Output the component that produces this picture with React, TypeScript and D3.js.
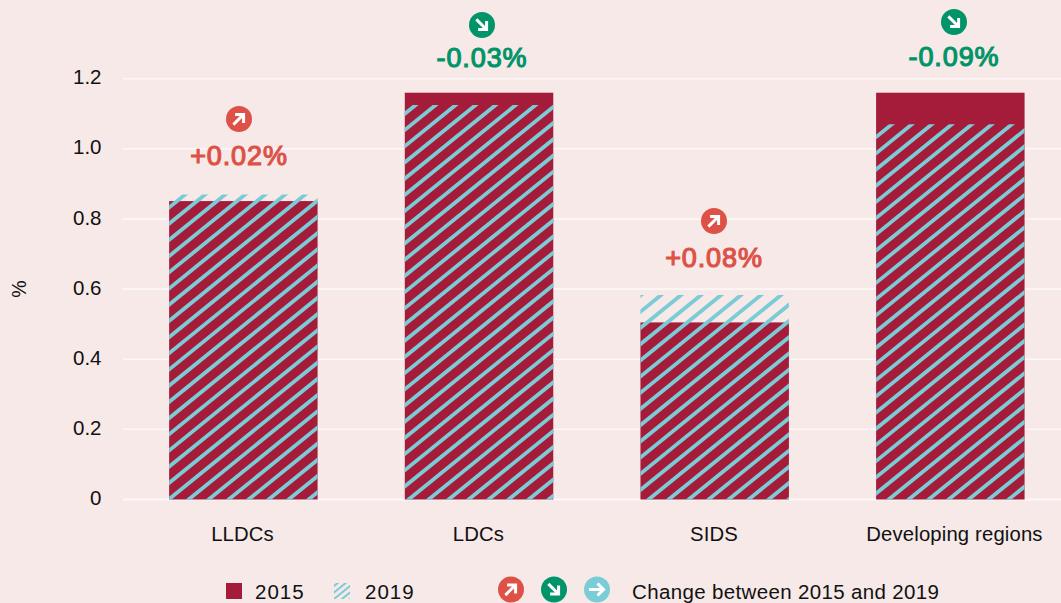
import React from "react";
import * as d3 from "d3";

const categories = ["LLDCs", "LDCs", "SIDS", "Developing regions"];
const values2015 = [0.851, 1.16, 0.505, 1.16];
const values2019 = [0.87, 1.125, 0.583, 1.07];
const changeLabels = ["+0.02%", "-0.03%", "+0.08%", "-0.09%"];
const changeKinds = ["up", "down", "up", "down"];
const yTicks = [0, 0.2, 0.4, 0.6, 0.8, 1.0, 1.2];
const legendKinds = ["up", "down", "flat"];

const W = 1061, H = 603;
const BG = "#f6e9e8", CRIMSON = "#a51c3a", TEAL = "#7accd6", RED = "#dd5146", GREEN = "#009468", INK = "#111";
const FONT = "'Liberation Sans', Arial, sans-serif";
const kindColor: Record<string, string> = { up: RED, down: GREEN, flat: TEAL };

const y = d3.scaleLinear().domain([0, 1.2]).range([499.5, 78.7]);
const x = d3.scaleBand().domain(categories).range([132.6, 1061.1]).paddingInner(0.37).paddingOuter(0.155);
const iconCx = [239, 482, 714, 954];
const iconCy = [119, 25, 221, 22];
const labelBase = [165, 67, 267, 66];
const catLabelCx = [242.5, 478.5, 714, 954.5];

function Hatch({ id, x0, y0, w, h, period, sw, anchorX, anchorY }: any) {
  const slope = 0.81;
  const first = Math.floor((x0 - anchorX - (anchorY - y0) / slope) / period) - 1;
  const last = Math.ceil((x0 + w - anchorX + (y0 + h - anchorY) / slope) / period) + 1;
  const ks = d3.range(first, last + 1);
  return (
    <g clipPath={`url(#${id})`}>
      <clipPath id={id}><rect x={x0} y={y0} width={w} height={h} /></clipPath>
      {ks.map((k) => {
        const ax = anchorX + k * period;
        return (
          <line key={k} x1={ax - 800} y1={anchorY + slope * 800} x2={ax + 800} y2={anchorY - slope * 800}
            stroke={TEAL} strokeWidth={sw} />
        );
      })}
    </g>
  );
}

function Arrow({ kind, cx, cy }: { kind: string; cx: number; cy: number }) {
  const rot = kind === "up" ? -45 : kind === "down" ? 45 : 0;
  return (
    <g transform={`translate(${cx},${cy})`}>
      <circle r={13} fill={kindColor[kind]} />
      <g transform={`rotate(${rot})`} fill="none" stroke="#fff" strokeWidth={3}>
        <path d="M-8,0H6" />
        <path d="M0.5,-6L6.5,0L0.5,6" />
      </g>
    </g>
  );
}

export default function App() {
  return (
    <svg width={W} height={H} style={{ position: "absolute", left: 0, top: 0, display: "block", background: BG }} fontFamily={FONT}>
      <style>{`html,body{background:${BG};margin:0}`}</style>

      {yTicks.map((t) => (
        <g key={t}>
          <line x1={123} x2={W} y1={y(t)} y2={y(t)} stroke="#fdf8f7" strokeWidth={t === 0 ? 2 : 1.5} />
          <text x={101.5} y={y(t) + 5.6} textAnchor="end" fontSize={20.5} fill={INK}>
            {t === 0 ? "0" : t.toFixed(1)}
          </text>
        </g>
      ))}
      <text transform="translate(26,289) rotate(-90)" textAnchor="middle" fontSize={19.5} fill={INK}>%</text>

      {categories.map((c, i) => (
        <g key={c}>
          <rect x={x(c)} width={x.bandwidth()} y={y(values2015[i])} height={y(0) - y(values2015[i])} fill={CRIMSON} />
          <Hatch id={`h${i}`} x0={x(c)} y0={y(values2019[i])} w={x.bandwidth()} h={y(0) - y(values2019[i])}
            period={20} sw={3.8} anchorX={168.5} anchorY={208} />
          <text x={catLabelCx[i]} y={541} textAnchor="middle" fontSize={20.3} letterSpacing={0.15} fill={INK}>{c}</text>
          <Arrow kind={changeKinds[i]} cx={iconCx[i]} cy={iconCy[i]} />
          <text x={iconCx[i]} y={labelBase[i]} textAnchor="middle" fontSize={27} letterSpacing={0.9}
            stroke={kindColor[changeKinds[i]]} strokeWidth={1.15} fill={kindColor[changeKinds[i]]}>
            {changeLabels[i]}
          </text>
        </g>
      ))}

      <rect x={226} y={583} width={16} height={16} fill={CRIMSON} />
      <text x={255} y={598.5} fontSize={20.5} letterSpacing={1} fill={INK}>2015</text>
      <Hatch id="hl" x0={334} y0={583} w={16} h={16} period={8} sw={2} anchorX={334} anchorY={586} />
      <text x={365} y={598.5} fontSize={20.5} letterSpacing={1} fill={INK}>2019</text>
      {legendKinds.map((k, i) => (
        <Arrow key={k} kind={k} cx={511 + i * 43} cy={589.5} />
      ))}
      <text x={632} y={598.5} fontSize={20.5} letterSpacing={0.35} fill={INK}>Change between 2015 and 2019</text>
    </svg>
  );
}
